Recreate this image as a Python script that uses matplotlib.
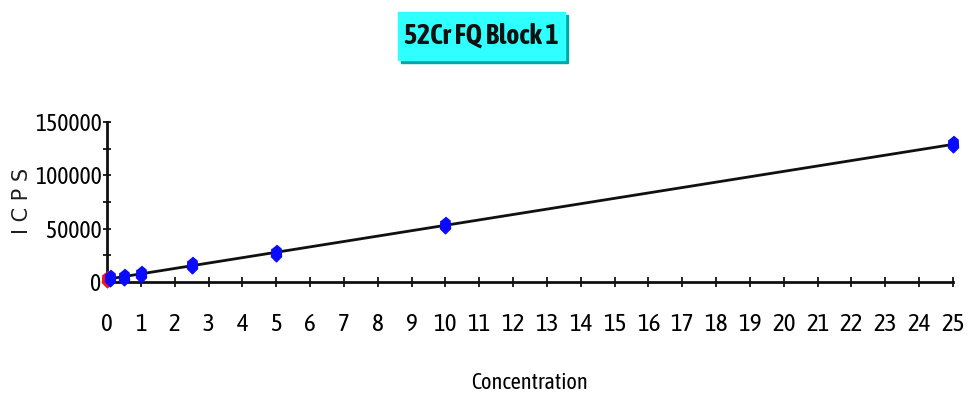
'''
Calibration curve for 52Cr, FQ block 1.
'''

import numpy as np
import matplotlib.pyplot as plt
from matplotlib.patches import Rectangle

TITLE = '52Cr FQ Block 1'
X_LABEL = 'Concentration'
Y_LABEL = 'I C P S'

# standards
CONC = [0.1, 0.5, 1.0, 2.5, 5.0, 10.0, 25.0]
ICPS = [3300, 4800, 7800, 15500, 27300, 53400, 129000]

# blank
BLANK_CONC = [0.0]
BLANK_ICPS = [3000]

X_TICKS = list(range(0, 26))
Y_TICKS = [0, 50000, 100000, 150000]
Y_MINOR = [25000, 75000, 125000]

NARROW = ['Asap Condensed', 'Archivo Narrow', 'Liberation Sans Narrow', 'DejaVu Sans']

# tall thin blob like the original marker
MARKER = [(0, 1), (0.55, 0.55), (0.6, -0.4), (0, -1), (-0.6, -0.4), (-0.55, 0.55)]


def main():
    fig = plt.figure(figsize=(9.69, 3.98), dpi=100)
    ax = fig.add_axes([107 / 969, 1 - 282 / 398, (953 - 107) / 969, 160 / 398])

    # straight line fit through standards
    slope, icpt = np.polyfit(CONC, ICPS, 1)
    xs = np.array([0, 25])
    ax.plot(xs, slope * xs + icpt, color='#101010', lw=2, zorder=2)

    ax.plot(BLANK_CONC, BLANK_ICPS, ls='none', marker=MARKER, ms=12,
            color='#ff1010', mec='#ff1010', zorder=3, clip_on=False)
    ax.plot(CONC, ICPS, ls='none', marker=MARKER, ms=12,
            color='#0a0aff', mec='#0a0aff', zorder=4, clip_on=False)

    ax.set_xlim(0, 25)
    ax.set_ylim(0, 150000)
    for s in ['top', 'right']:
        ax.spines[s].set_visible(False)
    for s in ['left', 'bottom']:
        ax.spines[s].set_linewidth(2)
        ax.spines[s].set_color('#101010')

    ax.set_xticks(X_TICKS)
    ax.set_xticklabels([str(t) for t in X_TICKS], family=NARROW, fontsize=18)
    ax.set_yticks(Y_TICKS)
    ax.set_yticklabels([str(t) for t in Y_TICKS], family=NARROW, fontsize=17)
    ax.set_yticks(Y_MINOR, minor=True)
    ax.tick_params(axis='x', direction='inout', length=7, width=1.2, pad=19)
    ax.tick_params(axis='y', direction='inout', length=6, width=1.2, pad=1)
    ax.tick_params(axis='y', which='minor', direction='inout', length=6, width=1.2)

    ax.set_xlabel(X_LABEL, family=NARROW, fontsize=16, labelpad=26)

    # y label placed by hand so it sits left of the tick labels
    fig.text(22 / 969, 1 - 201 / 398, Y_LABEL, rotation=90, ha='center',
             va='center', fontsize=15, color='#202020')

    # title box with shadow
    bx, by, bw, bh = 398 / 969, 1 - 60 / 398, 167 / 969, 48 / 398
    fig.patches.append(Rectangle((bx + 3 / 969, by - 3 / 398), bw, bh,
                                 transform=fig.transFigure, color='#00a8a8', zorder=0))
    fig.patches.append(Rectangle((bx, by), bw, bh, transform=fig.transFigure,
                                 color='#30ffff', zorder=1))
    fig.text(bx + bw / 2, by + bh / 2, TITLE, ha='center', va='center',
             family=NARROW, fontsize=20, fontweight='bold', color='#101010')

    plt.savefig('out.png', dpi=100)


if __name__ == '__main__':
    main()
